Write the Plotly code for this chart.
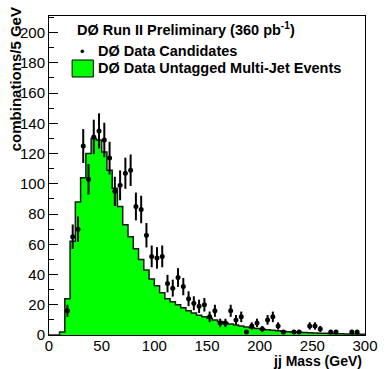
import plotly.graph_objects as go

# ---- data ----
bin_edges = list(range(0, 305, 5))  # 0..300 GeV, 5 GeV bins
mc_counts = [0, 0, 2, 24, 62, 88, 104, 120, 130, 129,
             121, 109, 97, 85, 73, 65, 57, 50, 43, 37,
             32.5, 28, 24, 22, 20, 18, 16, 14.5, 13, 12,
             11, 10, 9, 8, 7.3, 6.6, 6, 5.3, 4.8, 4.3,
             3.9, 3.5, 3.1, 2.8, 2.5, 2.2, 2.0, 1.8, 1.6, 1.5,
             1.3, 1.2, 1.1, 1.0, 0.9, 0.8, 0.7, 0.65, 0.6, 0.55]

data_mass = [17.5, 22.5, 27.5, 32.5, 37.5, 42.5, 47.5, 52.5, 57.5, 62.5,
             67.5, 72.5, 77.5, 82.5, 87.5, 92.5, 97.5, 102.5, 107.5, 112.5,
             117.5, 122.5, 127.5, 132.5, 137.5, 142.5, 147.5, 152.5, 157.5, 162.5,
             167.5, 172.5, 177.5, 182.5, 187.5, 192.5, 197.5, 202.5, 207.5, 212.5,
             217.5, 222.5, 232.5, 237.5, 247.5, 252.5, 257.5, 267.5, 272.5, 287.5,
             292.5]
data_counts = [16, 65, 70, 125, 103, 131, 135, 129, 117, 95,
               99, 107, 109, 85, 83, 66, 52, 51, 52, 34,
               31, 38, 32, 24, 21, 19, 20, 12, 16, 8,
               8, 16, 10, 12, 2, 6, 8, 4, 10, 12,
               6, 2, 2, 2, 6, 6, 4, 2, 2, 2,
               2]
data_errors = [4.0, 8.1, 8.4, 11.2, 10.1, 11.4, 11.6, 11.4, 10.8, 9.7,
               9.9, 10.3, 10.4, 9.2, 9.1, 8.1, 7.2, 7.1, 7.2, 5.8,
               5.6, 6.2, 5.7, 4.9, 4.6, 4.4, 4.5, 3.5, 4.0, 2.8,
               2.8, 4.0, 3.2, 3.5, 1.4, 2.4, 2.8, 2.0, 3.2, 3.5,
               2.4, 1.4, 1.4, 1.4, 2.4, 2.4, 2.0, 1.4, 1.4, 1.4,
               1.4]

x_ticks = [0, 50, 100, 150, 200, 250, 300]
y_ticks = [0, 20, 40, 60, 80, 100, 120, 140, 160, 180, 200]

FONT = "Liberation Sans, Arial, Helvetica, sans-serif"

fig = go.Figure()

fig.add_trace(go.Scatter(
    x=bin_edges, y=mc_counts + [mc_counts[-1]],
    mode="lines", line_shape="hv",
    line=dict(color="#1a1a1a", width=1.5),
    fill="tozeroy", fillcolor="#00ff00",
    name="DØ Data Untagged Multi-Jet Events", showlegend=False,
    hoverinfo="skip"))

fig.add_trace(go.Scatter(
    x=data_mass, y=data_counts, mode="markers",
    marker=dict(color="black", size=5, symbol="circle"),
    error_y=dict(type="data", array=data_errors, color="black",
                 thickness=2, width=0),
    name="DØ Data Candidates", showlegend=False))

W, H = 390, 369
L, R, T, B = 49, 13, 16, 34
pw, ph = W - L - R, H - T - B


def px(xp):
    return (xp - L) / pw


def py(yp):
    return (H - B - yp) / ph


fig.update_layout(
    width=W, height=H, autosize=False,
    margin=dict(l=L, r=R, t=T, b=B, pad=0),
    paper_bgcolor="white", plot_bgcolor="white",
    font=dict(family=FONT, color="black"),
    showlegend=False,
    xaxis=dict(range=[0, 300], tickvals=x_ticks, ticks="",
               showgrid=False, zeroline=False,
               showline=True, mirror=True, linecolor="black", linewidth=1,
               ticklabelstandoff=-3,
               tickfont=dict(size=15, family=FONT, color="black")),
    yaxis=dict(range=[0, 211], tickvals=y_ticks, ticks="inside", ticklen=9,
               tickcolor="black", tickwidth=1,
               minor=dict(ticks="inside", dtick=10, ticklen=5, tickcolor="black"),
               showgrid=False, zeroline=False,
               showline=True, mirror=True, linecolor="black", linewidth=1,
               tickfont=dict(size=15, family=FONT, color="black")),
)

annotations = [
    dict(text="<b>DØ Run II Preliminary (360 pb<sup>-1</sup>)</b>",
         x=px(76), y=py(29), xanchor="left", yanchor="middle",
         font=dict(size=14.5)),
    dict(text="<b>DØ Data Candidates</b>", x=px(98), y=py(51),
         xanchor="left", yanchor="middle", font=dict(size=14.5)),
    dict(text="<b>DØ Data Untagged Multi-Jet Events</b>", x=px(98), y=py(68),
         xanchor="left", yanchor="middle", font=dict(size=14.5)),
    dict(text="•", x=px(84), y=py(51), xanchor="center", yanchor="middle",
         font=dict(size=13)),
    dict(text="<b>jj Mass (GeV)</b>", x=px(376), y=py(361),
         xanchor="right", yanchor="middle", font=dict(size=14)),
    dict(text="<b>combinations/5 GeV</b>", x=px(14), y=py(79), textangle=-90,
         xanchor="center", yanchor="middle", font=dict(size=15)),
]
for a in annotations:
    a.update(xref="paper", yref="paper", showarrow=False)
fig.update_layout(annotations=annotations)

fig.add_shape(type="rect", xref="paper", yref="paper",
              x0=px(73), x1=px(95), y0=py(77), y1=py(60),
              fillcolor="#00ff00", line=dict(color="black", width=1))

fig.write_html("out.html",
               config={"displayModeBar": False},
               post_script="document.body.style.margin='0px';"
                           "document.body.style.overflow='hidden';")
